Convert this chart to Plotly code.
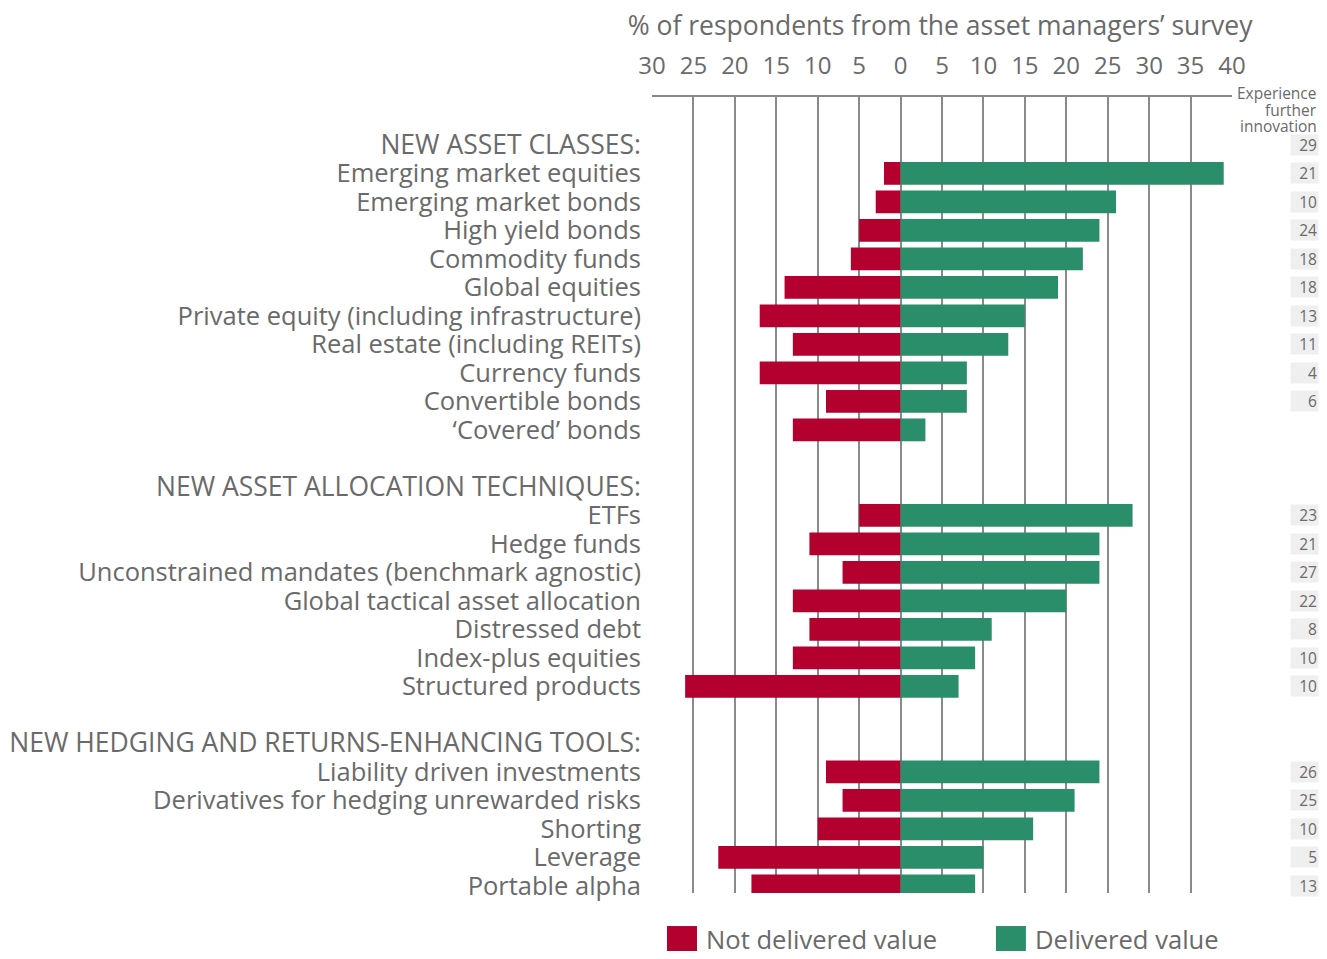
import plotly.graph_objects as go

# rows top to bottom; "" is a spacer row
labels = [
    "NEW ASSET CLASSES:",
    "Emerging market equities",
    "Emerging market bonds",
    "High yield bonds",
    "Commodity funds",
    "Global equities",
    "Private equity (including infrastructure)",
    "Real estate (including REITs)",
    "Currency funds",
    "Convertible bonds",
    "\u2018Covered\u2019 bonds",
    "",
    "NEW ASSET ALLOCATION TECHNIQUES:",
    "ETFs",
    "Hedge funds",
    "Unconstrained mandates (benchmark agnostic)",
    "Global tactical asset allocation",
    "Distressed debt",
    "Index-plus equities",
    "Structured products",
    "",
    "NEW HEDGING AND RETURNS-ENHANCING TOOLS:",
    "Liability driven investments",
    "Derivatives for hedging unrewarded risks",
    "Shorting",
    "Leverage",
    "Portable alpha",
]
not_delivered = [None, 2, 3, 5, 6, 14, 17, 13, 17, 9, 13, None,
                 None, 5, 11, 7, 13, 11, 13, 26, None,
                 None, 9, 7, 10, 22, 18]
delivered = [None, 39, 26, 24, 22, 19, 15, 13, 8, 8, 3, None,
             None, 28, 24, 24, 20, 11, 9, 7, None,
             None, 24, 21, 16, 10, 9]
innovation = [29, 21, 10, 24, 18, 18, 13, 11, 4, 6, None, None,
              None, 23, 21, 27, 22, 8, 10, 10, None,
              None, 26, 25, 10, 5, 13]
innov_header = ["Experience", "further", "innovation"]
x_ticks = list(range(-30, 41, 5))
x_ticktext = [str(abs(v)) for v in x_ticks]

RED = "#b3002f"
GREEN = "#2b8e6b"
TXT = "#6a6a6a"
GRID = "#8a8a8a"
FONT = "Open Sans"

rows = [-i for i in range(len(labels))]
# section headers are set a little larger than the item labels
ticktext = [f'<span style="font-size:26.5px">{t}</span>' if t.isupper() else t for t in labels]

fig = go.Figure()
fig.add_trace(go.Bar(y=rows, x=[-v if v is not None else None for v in not_delivered],
                     orientation="h", marker=dict(color=RED, line_width=0),
                     width=0.8, name="Not delivered value"))
fig.add_trace(go.Bar(y=rows, x=delivered, orientation="h",
                     marker=dict(color=GREEN, line_width=0),
                     width=0.8, name="Delivered value"))

# page body has an 8px margin, so the figure is 16px smaller than the window
fig.update_layout(
    width=1311, height=943,
    margin=dict(l=644, r=87, t=89, b=58, autoexpand=False),
    barmode="overlay",
    showlegend=False,
    plot_bgcolor="white", paper_bgcolor="white",
    font=dict(family=FONT, color=TXT),
    title=dict(text="% of respondents from the asset managers\u2019 survey",
               x=0.711, xanchor="center", y=0.981, yanchor="middle",
               font=dict(size=26.5, color=TXT, family=FONT)),
)

fig.update_xaxes(
    side="top", range=[-30, 40], tickvals=x_ticks, ticktext=x_ticktext,
    showgrid=True, gridcolor=GRID, gridwidth=1.5,
    zeroline=False, showline=True, linecolor=GRID, linewidth=1.5,
    ticks="", ticklabelstandoff=12, automargin=False,
    tickfont=dict(size=24, color=TXT, family=FONT),
)
fig.update_yaxes(
    range=[-26.25, 1.68], tickvals=rows, ticktext=ticktext,
    showgrid=False, zeroline=False, showline=False,
    ticks="", ticklabelstandoff=10, automargin=False,
    tickfont=dict(size=25.5, color=TXT, family=FONT),
)

# right-hand column: experience further innovation
for yy, line in zip([1.005, 0.9837, 0.9636], innov_header):
    fig.add_annotation(text=line, xref="paper", yref="paper", x=1.15, y=yy,
                       xanchor="right", yanchor="middle", align="right",
                       showarrow=False, font=dict(size=15.5, color=TXT, family=FONT))
for r, v in zip(rows, innovation):
    if v is None:
        continue
    fig.add_annotation(text=str(v), xref="paper", yref="y", x=1.15, y=r,
                       xanchor="right", yanchor="middle", align="right",
                       width=25, height=18, borderpad=1, bgcolor="#efefef",
                       showarrow=False, font=dict(size=15.5, color=TXT, family=FONT))

# legend drawn by hand to get the large swatches
for x0, col, name in [(0.0259, RED, "Not delivered value"), (0.593, GREEN, "Delivered value")]:
    fig.add_shape(type="rect", xref="paper", yref="paper",
                  x0=x0, x1=x0 + 0.0517, y0=-0.0415, y1=-0.0779,
                  fillcolor=col, line_width=0)
    fig.add_annotation(text=name, xref="paper", yref="paper", x=x0 + 0.064, y=-0.059,
                       xanchor="left", yanchor="middle", showarrow=False,
                       font=dict(size=25.6, color=TXT, family=FONT))

fig.write_html("out.html")
